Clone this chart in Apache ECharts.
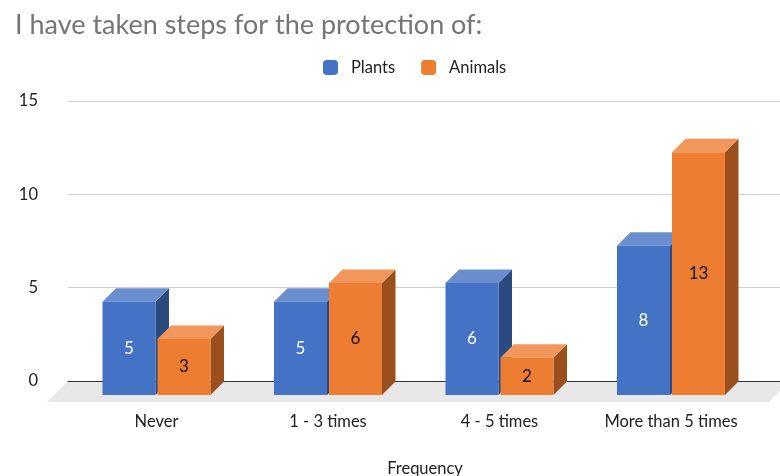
<!DOCTYPE html>
<html><head><meta charset="utf-8">
<script src="https://cdn.jsdelivr.net/npm/echarts@6/dist/echarts.min.js"></script>
<style>html,body{margin:0;padding:0;background:#fff}#c{width:780px;height:476px}</style>
</head><body><div id="c"></div>
<script>
const categories = ['Never', '1 - 3 times', '4 - 5 times', 'More than 5 times'];
const plants = [5, 5, 6, 8];
const animals = [3, 6, 2, 13];
const yTicks = [0, 5, 10, 15];
const seriesNames = ['Plants', 'Animals'];

const FONT = 'Lato';
const DEPTH = 13.5;
const palettes = [
  {front: '#4472C4', top: '#6A8DCE', side: '#2B4A80', label: '#ffffff'},
  {front: '#ED7D31', top: '#F1975B', side: '#9A4F1D', label: '#111111'}
];

function barRenderer(si) {
  return function (params, api) {
    const cat = api.value(0), val = api.value(1);
    const top = api.coord([cat, val]);
    const base = api.coord([cat, 0]);
    const band = api.size([1, 0])[0];
    const w = band * 0.309, gap = 2;
    const x0 = si === 0 ? top[0] - gap / 2 - w : top[0] + gap / 2;
    const y1 = top[1], y0 = base[1], d = DEPTH, p = palettes[si];
    return {
      type: 'group',
      children: [
        {type: 'polygon', shape: {points: [[x0 + w, y1], [x0 + w + d, y1 - d], [x0 + w + d, y0 - d], [x0 + w, y0]]}, style: {fill: p.side}},
        {type: 'polygon', shape: {points: [[x0, y1], [x0 + d, y1 - d], [x0 + w + d, y1 - d], [x0 + w, y1]]}, style: {fill: p.top}},
        {type: 'rect', shape: {x: x0, y: y1, width: w, height: y0 - y1}, style: {fill: p.front}},
        {type: 'text', x: x0 + w / 2, y: (y0 + y1) / 2, style: {text: String(val), fill: p.label, font: '17px ' + FONT, align: 'center', verticalAlign: 'middle'}}
      ]
    };
  };
}

function floorRenderer(params, api) {
  const cs = params.coordSys;
  const by = cs.y + cs.height, fd = 21;
  return {
    type: 'polygon',
    shape: {points: [[cs.x, by], [cs.x + cs.width + 10, by], [cs.x + cs.width + 10 - fd, by + fd], [cs.x - fd, by + fd]]},
    style: {fill: '#E8E8E8'}
  };
}

const chart = echarts.init(document.getElementById('c'), null, {renderer: 'canvas'});
chart.setOption({
  animation: false,
  title: [
    {text: 'I have taken steps for the protection of:', left: 10, top: 7,
     textStyle: {fontFamily: FONT, fontSize: 27, fontWeight: 'normal', color: '#757575'}},
    {text: 'Frequency', left: 420, top: 455, textAlign: 'center',
     textStyle: {fontFamily: FONT, fontSize: 16.5, fontWeight: 'normal', color: '#222'}}
  ],
  legend: {
    data: seriesNames, left: 318, top: 54, icon: 'roundRect', itemWidth: 15, itemHeight: 15, itemGap: 26,
    textStyle: {fontFamily: FONT, fontSize: 16.5, color: '#222', padding: [0, 0, 0, 8]}
  },
  grid: [
    {left: 68, right: 0, top: 101, bottom: 95},
    {left: 70.75, right: 23.25, top: 115, bottom: 81}
  ],
  xAxis: [
    {gridIndex: 0, type: 'category', data: categories, axisLine: {show: true, lineStyle: {color: '#333', width: 1}},
     axisTick: {show: false}, axisLabel: {show: false}, splitLine: {show: false}, z: 5},
    {gridIndex: 1, type: 'category', data: categories, axisLine: {show: false}, axisTick: {show: false},
     axisLabel: {fontFamily: FONT, fontSize: 16.5, color: '#222', margin: 18, interval: 0}}
  ],
  yAxis: [
    {gridIndex: 0, type: 'value', min: yTicks[0], max: yTicks[yTicks.length - 1], interval: 5,
     axisLine: {show: false}, axisTick: {show: false},
     axisLabel: {fontFamily: FONT, fontSize: 16.5, color: '#222', margin: 30},
     splitLine: {lineStyle: {color: '#CFCFCF', width: 1}}},
    {gridIndex: 1, type: 'value', min: yTicks[0], max: yTicks[yTicks.length - 1], interval: 5,
     axisLine: {show: false}, axisTick: {show: false}, axisLabel: {show: false}, splitLine: {show: false}}
  ],
  series: [
    {type: 'custom', name: 'floor', xAxisIndex: 0, yAxisIndex: 0, data: [[0, 0]], renderItem: floorRenderer, z: 1, silent: true},
    {type: 'custom', name: seriesNames[0], xAxisIndex: 1, yAxisIndex: 1, itemStyle: {color: palettes[0].front},
     data: plants.map((v, i) => [i, v]), renderItem: barRenderer(0), z: 10},
    {type: 'custom', name: seriesNames[1], xAxisIndex: 1, yAxisIndex: 1, itemStyle: {color: palettes[1].front},
     data: animals.map((v, i) => [i, v]), renderItem: barRenderer(1), z: 11}
  ]
});
</script></body></html>
